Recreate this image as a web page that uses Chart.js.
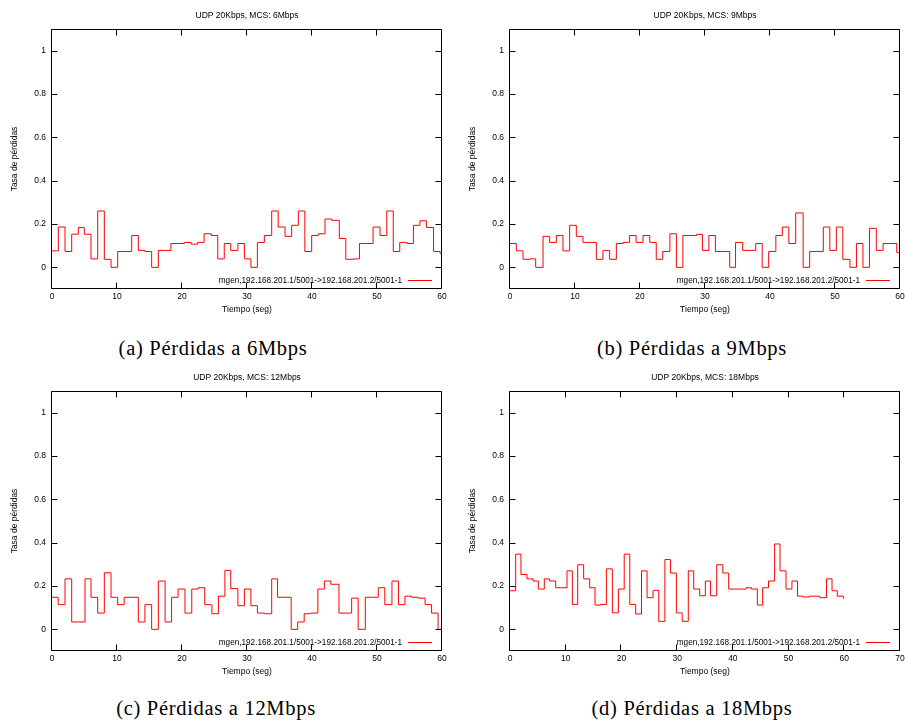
<!DOCTYPE html>
<html><head><meta charset="utf-8">
<script src="https://cdn.jsdelivr.net/npm/chart.js@4.4.1/dist/chart.umd.min.js"></script>
<style>
html,body{margin:0;padding:0;background:#fff;width:908px;height:725px;overflow:hidden;}
.panel{position:absolute;}
.cap{position:absolute;font-family:"Liberation Serif",serif;font-size:20.5px;line-height:24px;color:#000;transform:translateX(-50%);white-space:nowrap;letter-spacing:0.7px;}
</style></head><body>
<div class="panel" style="left:0;top:0"><canvas id="ca" width="454" height="330"></canvas></div>
<div class="panel" style="left:458px;top:0"><canvas id="cb" width="450" height="330"></canvas></div>
<div class="panel" style="left:0;top:362px"><canvas id="cc" width="454" height="330"></canvas></div>
<div class="panel" style="left:458px;top:362px"><canvas id="cd" width="450" height="330"></canvas></div>
<div class="cap" style="left:213px;top:336px">(a) Pérdidas a 6Mbps</div>
<div class="cap" style="left:692px;top:336px">(b) Pérdidas a 9Mbps</div>
<div class="cap" style="left:216px;top:696px">(c) Pérdidas a 12Mbps</div>
<div class="cap" style="left:692px;top:696px">(d) Pérdidas a 18Mbps</div>
<script>
// ---- data ----
const seriesLabel = "mgen,192.168.201.1/5001->192.168.201.2/5001-1";
const titles = ["UDP 20Kbps, MCS: 6Mbps","UDP 20Kbps, MCS: 9Mbps","UDP 20Kbps, MCS: 12Mbps","UDP 20Kbps, MCS: 18Mbps"];
const yTicks = [0,0.2,0.4,0.6,0.8,1];
const xTicks60 = [0,10,20,30,40,50,60];
const xTicks70 = [0,10,20,30,40,50,60,70];

const timesA = [0,0.97,2.0,3.03,4.05,4.97,6.0,7.03,8.05,9.08,10.1,11.2,12.26,13.28,14.3,15.33,16.36,17.3,18.3,19.3,20.36,21.4,22.4,23.4,24.5,25.5,26.5,27.5,28.6,29.6,30.6,31.6,32.67,33.8,34.8,35.85,36.87,37.9,38.9,39.95,40.97,42.0,43.03,44.2,45.2,46.36,47.3,48.4,49.4,50.46,51.5,52.5,53.5,54.6,55.6,56.6,57.6,58.7,59.7,60.7];
const lossA  = [0.076,0.186,0.073,0.153,0.184,0.153,0.039,0.26,0.037,0,0.073,0.073,0.147,0.078,0.073,0,0.078,0.078,0.11,0.11,0.115,0.107,0.115,0.155,0.147,0.039,0.11,0.078,0.11,0.039,0,0.115,0.147,0.26,0.186,0.143,0.194,0.26,0.073,0.147,0.155,0.223,0.217,0.133,0.037,0.039,0.11,0.11,0.186,0.147,0.26,0.073,0.115,0.11,0.194,0.215,0.184,0.073,0.065,0.065];

const timesB = [0,0.97,2.0,3.03,3.95,5.08,6.1,7.13,8.15,9.18,10.2,11.23,12.26,13.28,14.3,15.33,16.36,17.4,18.4,19.4,20.46,21.5,22.5,23.5,24.6,25.6,26.6,27.6,28.7,29.6,30.6,31.6,32.7,33.8,34.7,35.8,36.8,37.8,38.8,39.8,40.9,41.9,42.9,43.95,45.1,46.1,47.1,48.2,49.2,50.2,51.2,52.3,53.3,54.3,55.3,56.35,57.4,58.5,59.5,60.5];
const lossB  = [0.11,0.076,0.037,0.039,0,0.143,0.115,0.147,0.076,0.194,0.143,0.115,0.115,0.037,0.078,0.037,0.11,0.115,0.147,0.115,0.147,0.115,0.037,0.073,0.155,0,0.147,0.147,0.152,0.078,0.147,0.073,0.073,0,0.115,0.078,0.078,0.11,0,0.073,0.147,0.186,0.11,0.251,0,0.073,0.073,0.186,0.078,0.186,0.037,0,0.11,0,0.18,0.078,0.11,0.11,0.068,0.068];

const timesC = [0,0.95,2.0,3.03,4.05,5.08,6.0,7.03,8.05,9.08,10.1,11.1,12.15,13.28,14.3,15.33,16.36,17.4,18.4,19.4,20.46,21.5,22.5,23.5,24.6,25.6,26.6,27.5,28.6,29.6,30.6,31.6,32.7,33.8,34.7,35.8,36.8,37.8,38.8,39.8,40.9,41.9,42.9,44.15,45.1,46.1,47.1,48.2,49.2,50.2,51.2,52.3,53.3,54.3,55.3,56.35,57.4,58.4,59.4,60.4];
const lossC  = [0.148,0.114,0.233,0.034,0.034,0.233,0.148,0.075,0.261,0.148,0.114,0.148,0.148,0.034,0.114,0,0.223,0.034,0.148,0.186,0.075,0.186,0.192,0.114,0.072,0.153,0.272,0.188,0.109,0.186,0.109,0.075,0.072,0.233,0.148,0.148,0,0.034,0.072,0.075,0.186,0.223,0.208,0.075,0.075,0.144,0,0.148,0.148,0.192,0.114,0.223,0.114,0.153,0.148,0.144,0.114,0.075,0,0];

const timesD = [0,1.02,1.97,3.05,4.13,5.09,6.16,7.12,8.2,9.2,10.23,11.19,12.15,13.22,14.3,15.26,16.2,17.3,18.37,19.45,20.5,21.5,22.56,23.6,24.6,25.67,26.7,27.8,28.8,29.86,30.9,32.0,32.97,34.05,35.06,36.0,37.1,38.2,39.25,40.3,41.3,42.36,43.3,44.4,45.35,46.4,47.5,48.46,49.54,50.6,51.6,52.65,53.7,54.7,55.6,56.8,57.8,58.75,59.83,60.0];
const lossD  = [0.178,0.347,0.253,0.233,0.223,0.186,0.233,0.223,0.192,0.192,0.27,0.115,0.298,0.233,0.192,0.112,0.115,0.279,0.076,0.186,0.347,0.115,0.071,0.27,0.146,0.18,0.037,0.322,0.26,0.076,0.037,0.27,0.186,0.155,0.223,0.155,0.298,0.26,0.186,0.186,0.186,0.192,0.186,0.112,0.192,0.223,0.394,0.27,0.186,0.223,0.153,0.149,0.153,0.153,0.146,0.233,0.178,0.153,0.144,0.144];

// ---- drawing ----
const FONT = 'Liberation Sans';
const FS = 8.5;

const framePlugin = {
  id: 'gnuFrame',
  afterDatasetsDraw(chart) {
    const {ctx, chartArea: a, scales: {x, y}} = chart;
    ctx.save();
    ctx.strokeStyle = '#000';
    ctx.lineWidth = 1;
    const L = Math.round(a.left) - 0.5, R = Math.round(a.right) - 0.5;
    const T = Math.round(a.top) + 0.5, B = Math.round(a.bottom) - 0.5;
    ctx.beginPath();
    ctx.rect(L, T, R - L, B - T);
    const tl = 6;
    x.ticks.forEach(t => {
      const px = Math.round(x.getPixelForValue(t.value)) - 0.5;
      ctx.moveTo(px, B); ctx.lineTo(px, B - tl);
      ctx.moveTo(px, T); ctx.lineTo(px, T + tl);
    });
    y.ticks.forEach(t => {
      const py = Math.round(y.getPixelForValue(t.value)) + 0.5;
      ctx.moveTo(L, py); ctx.lineTo(L + tl, py);
      ctx.moveTo(R, py); ctx.lineTo(R - tl, py);
    });
    ctx.stroke();
    // key (legend) inside lower right
    const ds = chart.data.datasets[0];
    const ly = Math.round(a.bottom) - 8.5;
    ctx.font = '8.2px "' + FONT + '"';
    ctx.fillStyle = '#000';
    ctx.textAlign = 'right';
    ctx.textBaseline = 'middle';
    ctx.fillText(ds.label, a.right - 40, ly);
    ctx.strokeStyle = ds.borderColor;
    ctx.beginPath();
    ctx.moveTo(a.right - 34, ly); ctx.lineTo(a.right - 10, ly);
    ctx.stroke();
    ctx.restore();
  }
};

function makeChart(id, title, times, losses, xTicks, xMax, padRight) {
  const pts = times.map((t, i) => ({x: t, y: losses[i]}));
  return new Chart(document.getElementById(id), {
    type: 'line',
    data: { datasets: [{
      label: seriesLabel, data: pts, stepped: 'before',
      borderColor: '#ff0000', borderWidth: 1, pointRadius: 0, fill: false
    }]},
    options: {
      responsive: false, animation: false, events: [],
      layout: { padding: { left: 0, top: 0, right: padRight, bottom: 0 } },
      plugins: {
        legend: { display: false }, tooltip: { enabled: false },
        title: { display: true, text: title, fullSize: false, color: '#000',
                 font: { family: FONT, size: FS, weight: 'normal' },
                 padding: { top: 10.9, bottom: 7.9 } }
      },
      scales: {
        x: { type: 'linear', min: 0, max: xMax,
             grid: { display: false, drawTicks: false, tickLength: 0 },
             border: { display: false },
             afterBuildTicks: s => { s.ticks = xTicks.map(v => ({value: v})); },
             afterFit: s => { s.height = 41; },
             ticks: { color: '#000', padding: 3, font: { family: FONT, size: FS }, maxRotation: 0,
                      callback: v => String(v) },
             title: { display: true, text: 'Tiempo (seg)', color: '#000',
                      font: { family: FONT, size: FS }, padding: { top: 0, bottom: 14.9 } } },
        y: { type: 'linear', min: -0.1, max: 1.1,
             grid: { display: false, drawTicks: false, tickLength: 0 },
             border: { display: false },
             afterBuildTicks: s => { s.ticks = yTicks.map(v => ({value: v})); },
             afterFit: s => { s.width = 52; },
             ticks: { color: '#000', padding: 6, font: { family: FONT, size: FS },
                      callback: v => String(Math.round(v * 10) / 10) },
             title: { display: true, text: 'Tasa de pérdidas', color: '#000',
                      font: { family: FONT, size: FS }, padding: { top: 9.9, bottom: 0 } } }
      }
    },
    plugins: [framePlugin]
  });
}

makeChart('ca', titles[0], timesA, lossA, xTicks60, 60, 12);
makeChart('cb', titles[1], timesB, lossB, xTicks60, 60, 8);
makeChart('cc', titles[2], timesC, lossC, xTicks60, 60, 12);
makeChart('cd', titles[3], timesD, lossD, xTicks70, 70, 8);
</script>
</body></html>
